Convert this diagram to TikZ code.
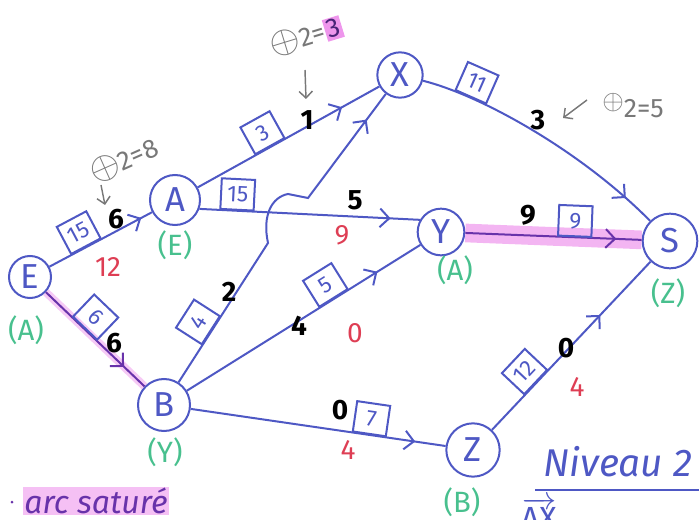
\documentclass[tikz,border=0pt]{standalone}
\usepackage{fontspec}
\setmainfont{Fira Sans}
\usetikzlibrary{arrows.meta,decorations.markings}

\definecolor{stylo}{RGB}{78,88,196}
\definecolor{violet}{RGB}{104,50,170}
\definecolor{fluo}{RGB}{238,150,236}
\definecolor{vert}{RGB}{72,192,142}
\definecolor{rouge}{RGB}{222,62,84}
\definecolor{crayon}{RGB}{120,120,120}

\tikzset{every picture/.style={line width=1.5pt}}
\tikzset{
  sommet/.style={circle,draw=stylo,text=stylo,inner sep=0pt,font=\fontsize{26}{28}\selectfont},
  capa/.style={draw=stylo,text=stylo,inner sep=0pt,minimum width=25pt,minimum height=23pt,sloped,above,font=\fontsize{17}{19}\selectfont},
  flot/.style={text=black,font=\bfseries\fontsize{21}{23}\selectfont},
  residu/.style={text=rouge,font=\fontsize{21}{23}\selectfont},
  marque/.style={text=vert,font=\fontsize{22}{24}\selectfont},
  note/.style={text=crayon,font=\fontsize{20}{22}\selectfont},
  notefleche/.style={draw=crayon,line width=1.1pt,-{Straight Barb[length=5pt,width=10pt]}},
  fleche/.style={postaction={decorate,decoration={markings,mark=at position #1 with {\arrow{Straight Barb[length=7pt,width=14pt]}}}}},
}

\begin{document}
\begin{tikzpicture}[x=0.75pt,y=0.75pt]
\useasboundingbox (0,0) rectangle (699,-520);

% sommets du reseau
\node[sommet,minimum size=31.5pt] (e) at (30,-277) {E};
\node[sommet,minimum size=37.5pt] (a) at (175,-200) {A};
\node[sommet,minimum size=34pt] (x) at (400,-75) {X};
\node[sommet,minimum size=35pt] (y) at (441,-232) {Y};
\node[sommet,minimum size=41pt] (s) at (670,-241) {S};
\node[sommet,minimum size=39pt] (b) at (164,-405) {B};
\node[sommet,minimum size=40pt] (z) at (473,-450) {Z};

% marquage
\node[marque] (me) at (26,-330) {(A)};
\node[marque] (ma) at (175,-245) {(E)};
\node[marque] (mb) at (165,-452) {(Y)};
\node[marque] (my) at (455,-270) {(A)};
\node[marque] (ms) at (668,-293) {(Z)};
\node[marque] (mz) at (462,-502) {(B)};

% arcs satures (surligneur)
\draw[fluo,opacity=0.5,line width=6pt] (e) -- (b);
\draw[fluo,opacity=0.7,line width=14pt] (y) -- (s);

% arcs
\draw[stylo,fleche=-9pt] (e) -- (a) node[capa,pos=0.36] {15};
\draw[violet,fleche=-21pt] (e) -- (b) node[capa,pos=0.39] {6};
\draw[stylo,fleche=-32pt] (a) -- (x) node[capa,pos=0.4] {3};
\draw[stylo,fleche=-22pt] (a.-20) -- (y.150) node[capa,pos=0.17] {15};
\coordinate (pont1) at (268,-243);
\coordinate (pont2) at (288,-194);
\coordinate (pont3) at (308,-198);
\draw[stylo,fleche=-24pt] (b) -- (pont1) node[capa,pos=0.37] {4}
  .. controls (262,-215) and (272,-197) .. (pont2) -- (pont3) -- (x);
\draw[stylo,fleche=-25pt] (x) .. controls (480,-95) and (580,-150) .. (s) node[capa,pos=0.24] {11};
\draw[violet,fleche=-19pt] (y) -- (s) node[capa,pos=0.62] {9};
\draw[stylo,fleche=-38pt] (b) -- (y) node[capa,pos=0.63] {5};
\draw[stylo,fleche=-23pt] (b) -- (z) node[capa,pos=0.70] {7};
\draw[stylo,fleche=-55pt] (z) -- (s) node[capa,pos=0.28] {12};

% flots
\node[flot] (fea) at (116,-219) {6};
\node[flot] (feb) at (114,-343) {6};
\node[flot] (fax) at (307,-120) {1};
\node[flot] (fay) at (355,-200) {5};
\node[flot] (fbx) at (229,-292) {2};
\node[flot] (fxs) at (538,-120) {3};
\node[flot] (fys) at (528,-215) {9};
\node[flot] (fby) at (299,-326) {4};
\node[flot] (fbz) at (340,-410) {0};
\node[flot] (fzs) at (566,-348) {0};

% capacites residuelles
\node[residu] (rea) at (108,-267) {12};
\node[residu] (ray) at (342,-235) {9};
\node[residu] (rby) at (355,-333) {0};
\node[residu] (rbz) at (348,-450) {4};
\node[residu] (rzs) at (577,-387) {4};

% increments au crayon
\node[note,rotate=24] (plus8) at (124,-160) {\scalebox{1.4}{$\oplus$}2=8};
\coordinate (de8) at (101,-185);
\coordinate (vers8) at (105,-205);
\draw[notefleche] (de8) -- (vers8);
\node[note,rotate=17,inner sep=1pt] (plus3) at (306,-36)
  {\scalebox{1.4}{$\oplus$}2=\setlength{\fboxsep}{1.5pt}\colorbox{fluo}{\textcolor{violet!70!black}{3}}};
\coordinate (de3) at (305,-70);
\coordinate (vers3) at (306,-99);
\draw[notefleche] (de3) -- (vers3);
\node[note] (plus5) at (633,-106) {\raisebox{6pt}{$\oplus$}2=5};
\coordinate (de5) at (587,-100);
\coordinate (vers5) at (563,-118);
\draw[notefleche] (de5) -- (vers5);

% legende
\fill[violet] (12,-502) circle (1.5);
\node[text=violet,fill=fluo!60,inner sep=1pt,anchor=west,font=\itshape\fontsize{24}{26}\selectfont] (legende) at (22,-501) {arc saturé};
\node[text=stylo,anchor=west,font=\itshape\fontsize{29}{31}\selectfont] (niveau) at (538,-462) {Niveau 2};
\draw[stylo] (535,-490) -- (699,-490);
\node[text=stylo,anchor=north west,inner sep=0pt,font=\fontsize{24}{26}\selectfont] (vecteur) at (520,-496) {$\overrightarrow{\mathrm{AX}}$};

\end{tikzpicture}
\end{document}
